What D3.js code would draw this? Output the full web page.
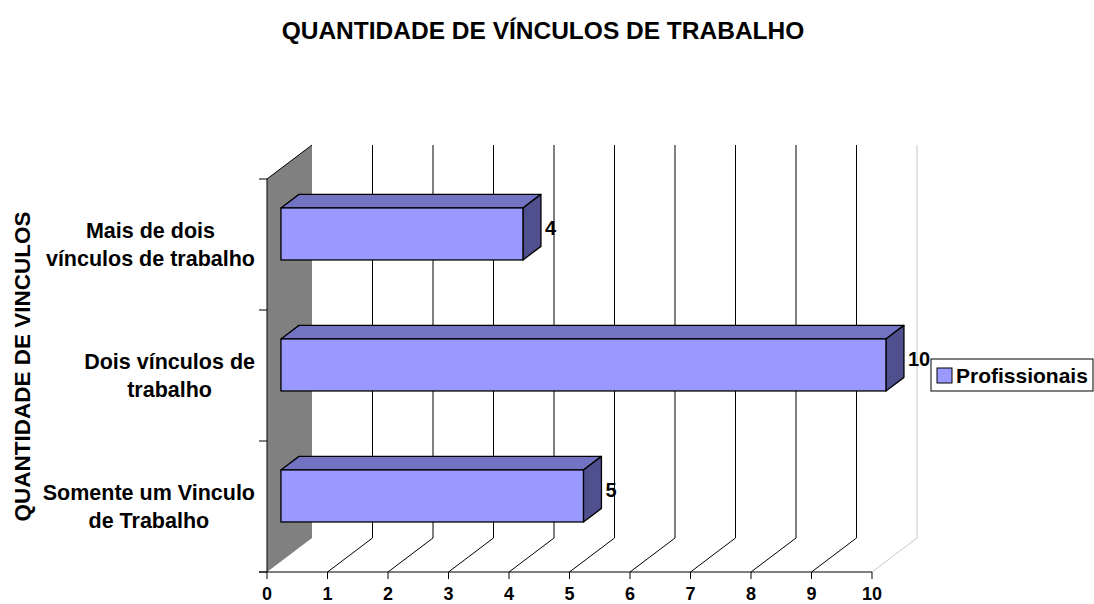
<!DOCTYPE html>
<html>
<head>
<meta charset="utf-8">
<script src="https://cdn.jsdelivr.net/npm/d3@7"></script>
<style>
  body { margin: 0; background: #fff; }
  svg text { font-family: "Liberation Sans", Arial, sans-serif; font-weight: bold; fill: #000; }
</style>
</head>
<body>
<svg id="mysvg" width="1094" height="604"></svg>
<script>
// excel order: first category at the bottom
var categories = ["Somente um Vinculo de Trabalho", "Dois vínculos de trabalho", "Mais de dois vínculos de trabalho"];
var categoryLines = [["Somente um Vinculo", "de Trabalho"], ["Dois vínculos de", "trabalho"], ["Mais de dois", "vínculos de trabalho"]];
var profissionais = [5, 10, 4];
var xTicks = [0, 1, 2, 3, 4, 5, 6, 7, 8, 9, 10];
var seriesName = "Profissionais";
var chartTitle = "QUANTIDADE DE VÍNCULOS DE TRABALHO";
var yTitle = "QUANTIDADE DE VINCULOS";

function draw() {
    var jsondata = categories.map(function(c, i) {
        return { cat: c, lines: categoryLines[i], val: profissionais[i] };
    });

    var svg = d3.select("#mysvg");

    // front plane
    var pLeft = 267, pRight = 872, pTop = 179, pBottom = 572;
    // full depth of the 3d box and where the bars sit in it
    var depthX = 45, depthY = -34;
    var f0 = 0.31, f1 = 0.71;

    var x = d3.scaleLinear().domain([0, 10]).range([pLeft, pRight]);
    var y = d3.scaleBand().domain(categories).range([pBottom, pTop]);
    var yBar = d3.scaleBand().domain(categories).range([pBottom, pTop])
        .paddingInner(0.603).paddingOuter(0.3015);

    var g = svg.append("g");

    // side wall
    g.append("polygon")
        .attr("points", [[pLeft, pTop], [pLeft + depthX, pTop + depthY], [pLeft + depthX, pBottom + depthY], [pLeft, pBottom]].join(" "))
        .attr("fill", "#808080");
    g.append("line")
        .attr("x1", pLeft).attr("y1", pTop).attr("x2", pLeft + depthX).attr("y2", pTop + depthY)
        .attr("stroke", "#000").attr("stroke-width", 1);

    // gridlines on back wall and floor
    var grid = xTicks.filter(function(d) { return d > 0; });
    g.selectAll(".vgrid").data(grid).enter().append("line")
        .attr("x1", function(d) { return x(d) + depthX; })
        .attr("x2", function(d) { return x(d) + depthX; })
        .attr("y1", pTop + depthY)
        .attr("y2", pBottom + depthY)
        .attr("stroke", function(d) { return d == 10 ? "#c8c8c8" : "#000"; })
        .attr("stroke-width", 1);
    g.selectAll(".fgrid").data(grid).enter().append("line")
        .attr("x1", function(d) { return x(d); })
        .attr("y1", pBottom)
        .attr("x2", function(d) { return x(d) + depthX; })
        .attr("y2", pBottom + depthY)
        .attr("stroke", function(d) { return d == 10 ? "#c8c8c8" : "#000"; })
        .attr("stroke-width", 1);

    // axes
    g.append("line").attr("x1", pLeft).attr("x2", pLeft).attr("y1", pTop).attr("y2", pBottom)
        .attr("stroke", "#000");
    g.append("line").attr("x1", pLeft - 8).attr("x2", pRight).attr("y1", pBottom).attr("y2", pBottom)
        .attr("stroke", "#000");
    var catTicks = [0, 1, 2, 3].map(function(i) { return pTop + i * y.step(); });
    g.selectAll(".ytick").data(catTicks).enter().append("line")
        .attr("x1", pLeft - 8).attr("x2", pLeft)
        .attr("y1", function(d) { return d; }).attr("y2", function(d) { return d; })
        .attr("stroke", "#000");
    g.selectAll(".xtick").data(xTicks).enter().append("line")
        .attr("x1", function(d) { return x(d); }).attr("x2", function(d) { return x(d); })
        .attr("y1", pBottom).attr("y2", pBottom + 7)
        .attr("stroke", "#000");
    g.selectAll(".xlab").data(xTicks).enter().append("text")
        .attr("x", function(d) { return x(d); })
        .attr("y", pBottom + 28)
        .attr("text-anchor", "middle")
        .attr("font-size", "18px")
        .text(function(d) { return d; });

    // bars
    var bdx = depthX * (f1 - f0), bdy = depthY * (f1 - f0);
    var ox = depthX * f0, oy = depthY * f0;
    var bars = g.selectAll(".bar").data(jsondata).enter().append("g");

    bars.append("polygon")
        .attr("points", function(d) {
            var x0 = x(0) + ox, x1 = x(d.val) + ox, yt = yBar(d.cat) + oy;
            return [[x0, yt], [x0 + bdx, yt + bdy], [x1 + bdx, yt + bdy], [x1, yt]].join(" ");
        })
        .attr("fill", "#7373c4").attr("stroke", "#000").attr("stroke-width", 1.3)
        .attr("stroke-linejoin", "round");
    bars.append("polygon")
        .attr("points", function(d) {
            var x1 = x(d.val) + ox, yt = yBar(d.cat) + oy, yb = yt + yBar.bandwidth();
            return [[x1, yt], [x1 + bdx, yt + bdy], [x1 + bdx, yb + bdy], [x1, yb]].join(" ");
        })
        .attr("fill", "#50508f").attr("stroke", "#000").attr("stroke-width", 1.3)
        .attr("stroke-linejoin", "round");
    bars.append("rect")
        .attr("x", x(0) + ox)
        .attr("y", function(d) { return yBar(d.cat) + oy; })
        .attr("width", function(d) { return x(d.val) - x(0); })
        .attr("height", yBar.bandwidth())
        .attr("fill", "#9999ff").attr("stroke", "#000").attr("stroke-width", 1.3);

    bars.append("text")
        .attr("x", function(d) { return x(d.val) + ox + bdx + 4; })
        .attr("y", function(d) { return yBar(d.cat) + oy + yBar.bandwidth() / 2 + 1; })
        .attr("font-size", "20px")
        .text(function(d) { return d.val; });

    // category labels, lines centred, block right aligned to the axis
    jsondata.forEach(function(d) {
        var cy = y(d.cat) + y.bandwidth() / 2;
        var lab = g.append("text").attr("font-size", "21.5px").attr("text-anchor", "middle");
        var spans = d.lines.map(function(line, i) {
            return lab.append("tspan")
                .attr("y", cy + (i - (d.lines.length - 1) / 2) * 28 + 7)
                .text(line);
        });
        var w = d3.max(spans, function(s) { return s.node().getComputedTextLength(); });
        spans.forEach(function(s) { s.attr("x", pLeft - 12 - w / 2); });
    });

    // titles
    svg.append("text")
        .attr("x", 543).attr("y", 39)
        .attr("text-anchor", "middle")
        .attr("font-size", "24.5px")
        .text(chartTitle);
    svg.append("text")
        .attr("transform", "translate(30," + ((pTop + pBottom) / 2 - 9) + ") rotate(-90)")
        .attr("text-anchor", "middle")
        .attr("font-size", "22.5px")
        .text(yTitle);

    // legend
    var lg = svg.append("g").attr("transform", "translate(931,359)");
    lg.append("rect").attr("width", 162).attr("height", 32)
        .attr("fill", "#fff").attr("stroke", "#000");
    lg.append("rect").attr("x", 6).attr("y", 9).attr("width", 15).attr("height", 15)
        .attr("fill", "#9999ff").attr("stroke", "#000");
    lg.append("text").attr("x", 25).attr("y", 24).attr("font-size", "21px").text(seriesName);
}

draw();
</script>
</body>
</html>
